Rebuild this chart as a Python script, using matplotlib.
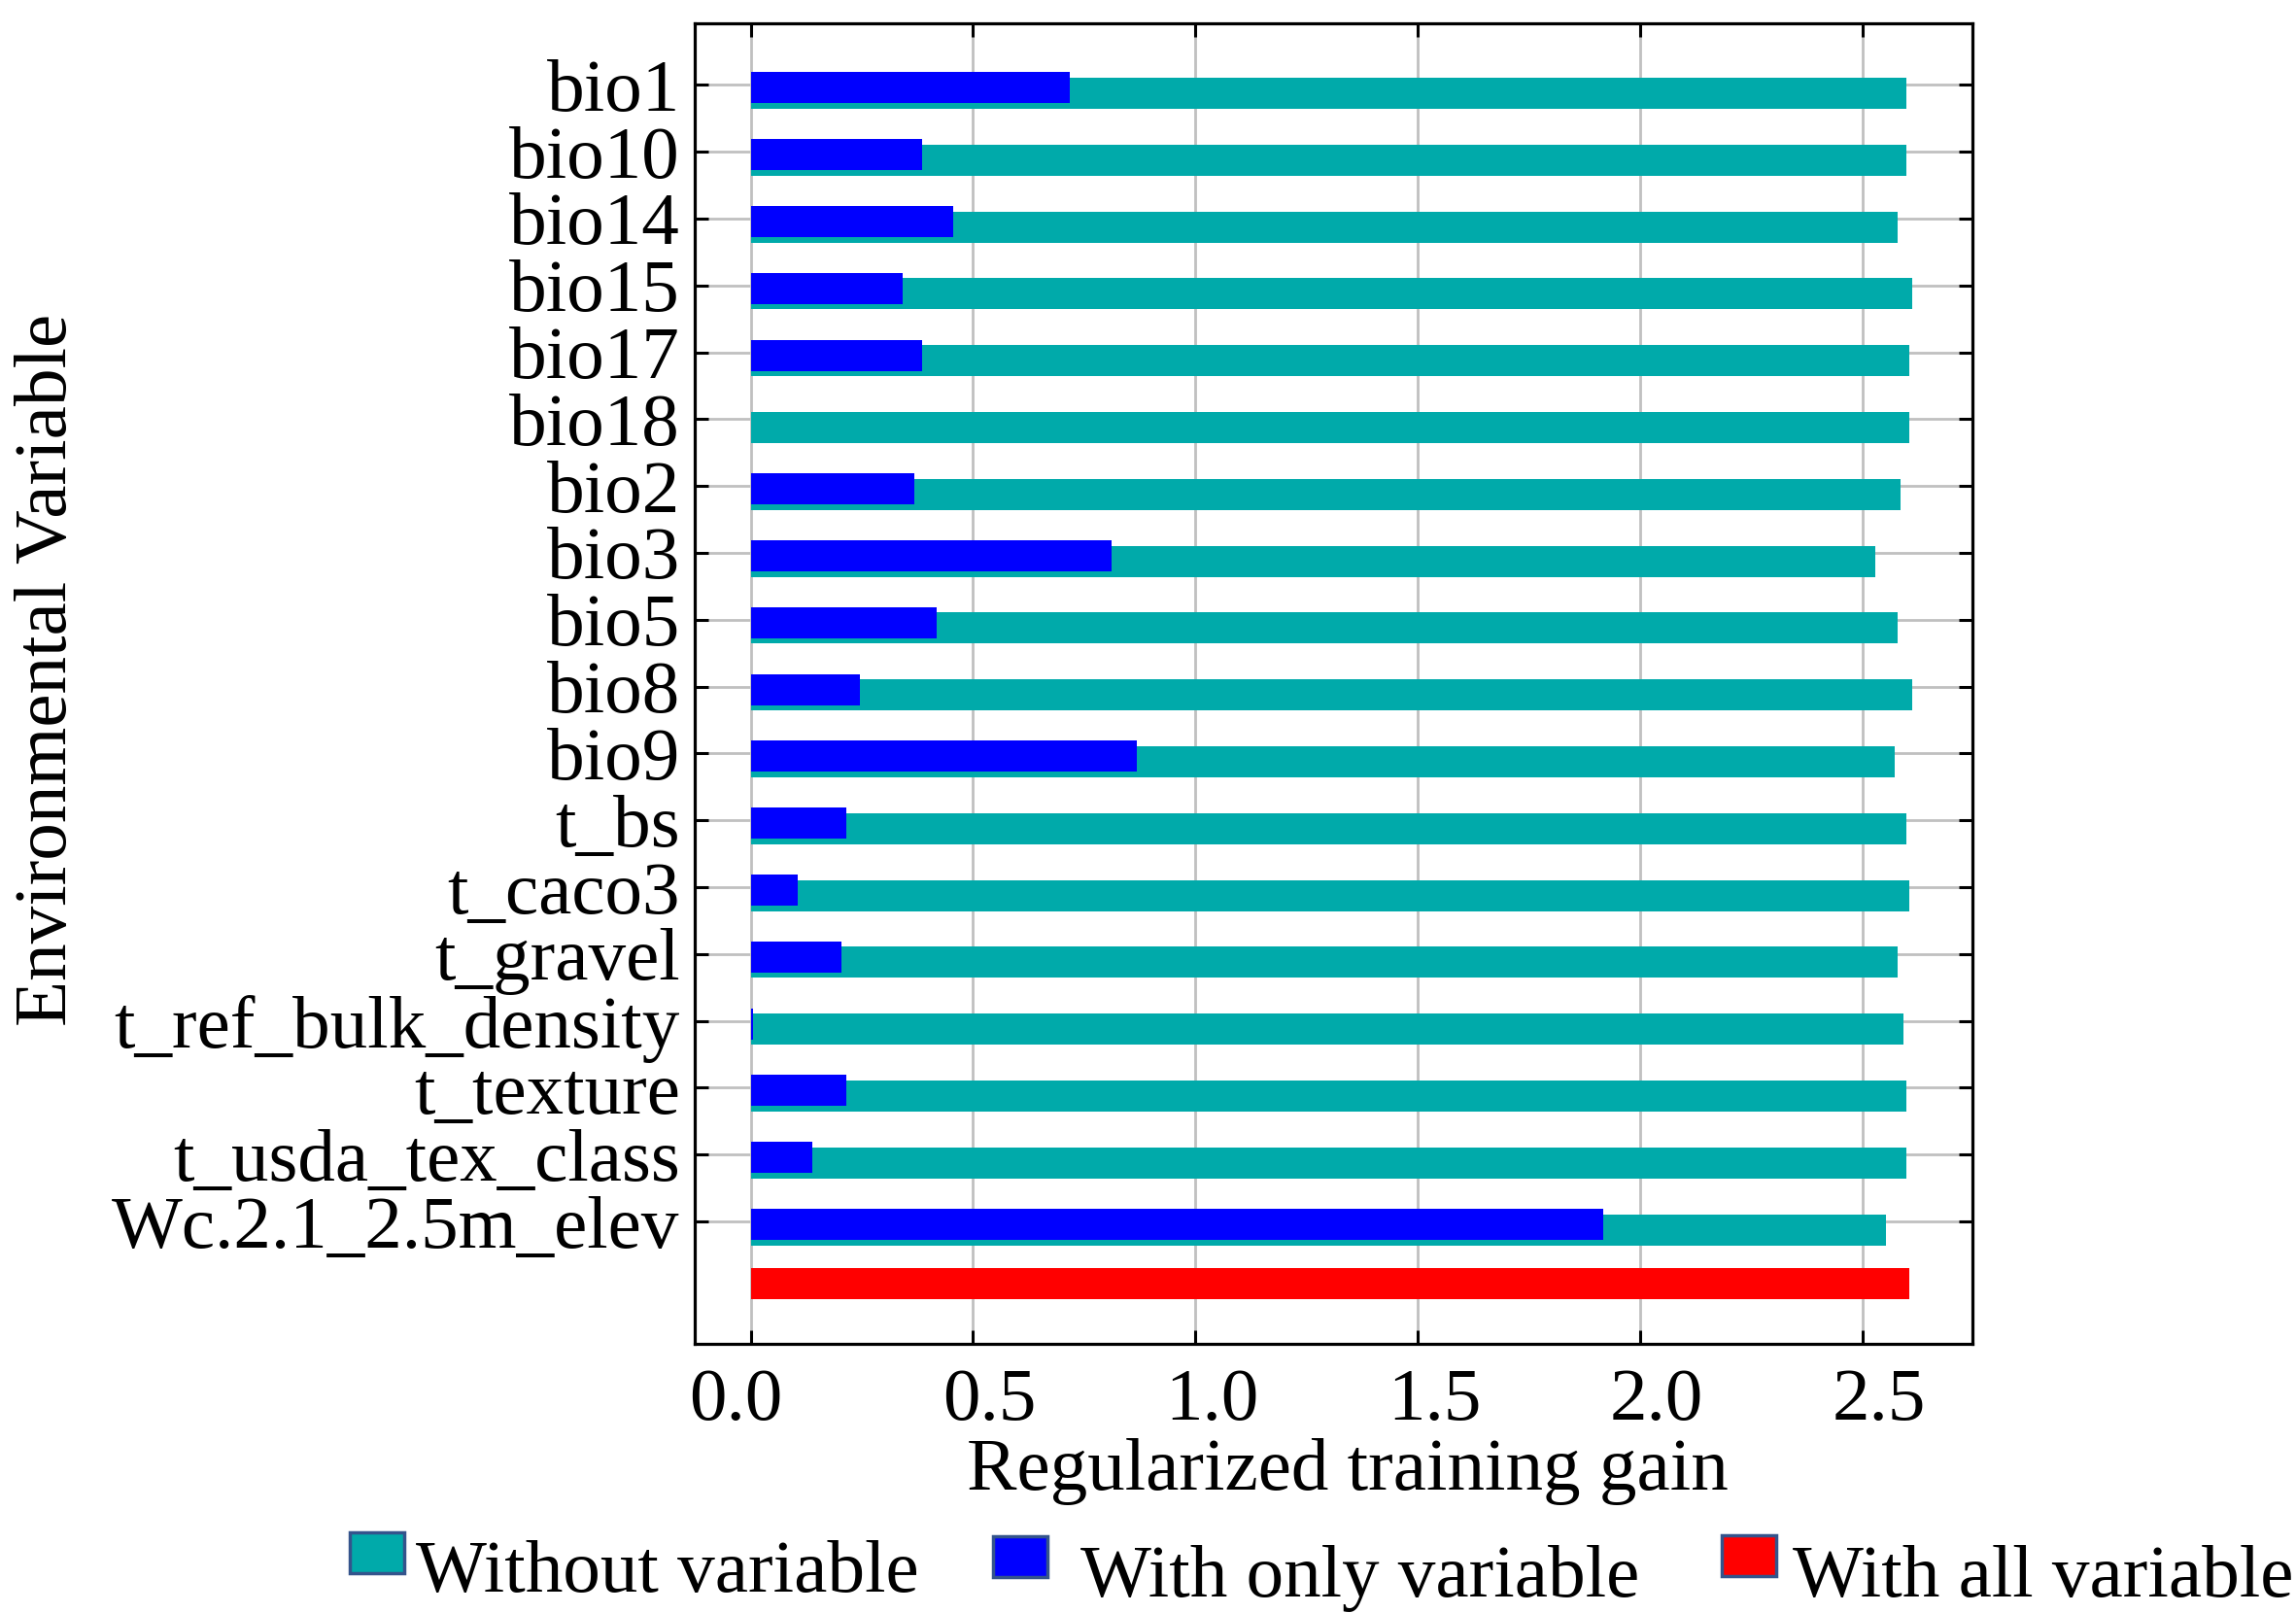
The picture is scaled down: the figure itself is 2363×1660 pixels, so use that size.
import matplotlib
matplotlib.use("Agg")
import matplotlib.pyplot as plt
import matplotlib.transforms as mtransforms
from matplotlib.patches import Rectangle
import numpy as np

categories = ["bio1", "bio10", "bio14", "bio15", "bio17", "bio18", "bio2", "bio3",
              "bio5", "bio8", "bio9", "t_bs", "t_caco3", "t_gravel",
              "t_ref_bulk_density", "t_texture", "t_usda_tex_class", "Wc.2.1_2.5m_elev"]
without_var = [2.599, 2.599, 2.580, 2.612, 2.605, 2.605, 2.586, 2.529, 2.580, 2.612,
               2.573, 2.599, 2.605, 2.580, 2.593, 2.599, 2.599, 2.554]
only_var = [0.717, 0.386, 0.456, 0.341, 0.386, 0.0, 0.367, 0.812, 0.418, 0.246,
            0.869, 0.215, 0.106, 0.203, 0.006, 0.215, 0.138, 1.917]
all_var = 2.605
xticks = [0.0, 0.5, 1.0, 1.5, 2.0, 2.5]
xtick_labels = ["0.0", "0.5", "1.0", "1.5", "2.0", "2.5"]
legend_labels = ["Without variable", "With only variable", "With all variable"]

TEAL = "#00AAAA"
BLUE = "#0000FF"
RED = "#FF0000"
FS = 55.5
FONT = "Liberation Serif"
plt.rcParams["font.family"] = [FONT, "DejaVu Serif"]

W, H = 2363, 1660
fig = plt.figure(figsize=(W / 100, H / 100), dpi=100)
ax = fig.add_axes([715 / W, 1 - 1383 / H, (2030 - 715) / W, (1383 - 24) / H])

idx = np.arange(len(categories))
bh = 0.465
ax.barh(idx + 0.125, without_var, height=bh, color=TEAL, zorder=2, linewidth=0)
ax.barh(idx + 0.044, only_var, height=bh, color=BLUE, zorder=3, linewidth=0)
ax.barh([len(categories) - 0.07], [all_var], height=bh, color=RED, zorder=3, linewidth=0)

ax.set_xlim(-0.126, 2.748)
ax.set_ylim(18.83, -0.92)
ax.set_yticks(idx)
ax.set_yticklabels(categories)
ax.set_xticks(xticks)
ax.set_xticklabels(xtick_labels)

ax.set_axisbelow(True)
ax.grid(True, color="#c0c0c0", linewidth=2.0, zorder=0)
ax.tick_params(axis="both", direction="in", length=10, width=2.2, color="black",
               top=True, right=True, labelsize=FS)
ax.tick_params(axis="y", pad=11)
ax.tick_params(axis="x", pad=18)
for s in ax.spines.values():
    s.set_linewidth(2.3)
    s.set_color("black")

ax.set_xlabel("Regularized training gain", fontsize=FS)
ax.xaxis.set_label_coords((1387 - 715) / 1315, (1383 - 1480) / 1359)
fig.text(50 / W, 1 - 689 / H, "Environmental Variable", rotation=90,
         ha="center", va="center", fontsize=FS)

# legend (manual, to mimic layout)
colors = [TEAL, BLUE, RED]
patch_x = [360, 1022, 1772]
patch_y = [1577, 1581, 1580]
text_x = [428, 1112, 1845]
text_base = [1638, 1643, 1643]
for lab, c, px, py, tx, tb in zip(legend_labels, colors, patch_x, patch_y, text_x, text_base):
    fig.add_artist(Rectangle((px / W, 1 - (py + 42) / H), 56 / W, 42 / H,
                             transform=fig.transFigure, facecolor=c,
                             edgecolor="#34548C", linewidth=2.5))
    fig.text(tx / W, 1 - tb / H, lab, ha="left", va="baseline", fontsize=FS)

fig.canvas.draw()
xl = ax.get_xticklabels()
for i, lab in enumerate(xl):
    dx = -15 if i == 0 else 17
    lab.set_transform(lab.get_transform() + mtransforms.ScaledTranslation(dx / 100, 0, fig.dpi_scale_trans))

fig.savefig("out.png", dpi=100)
